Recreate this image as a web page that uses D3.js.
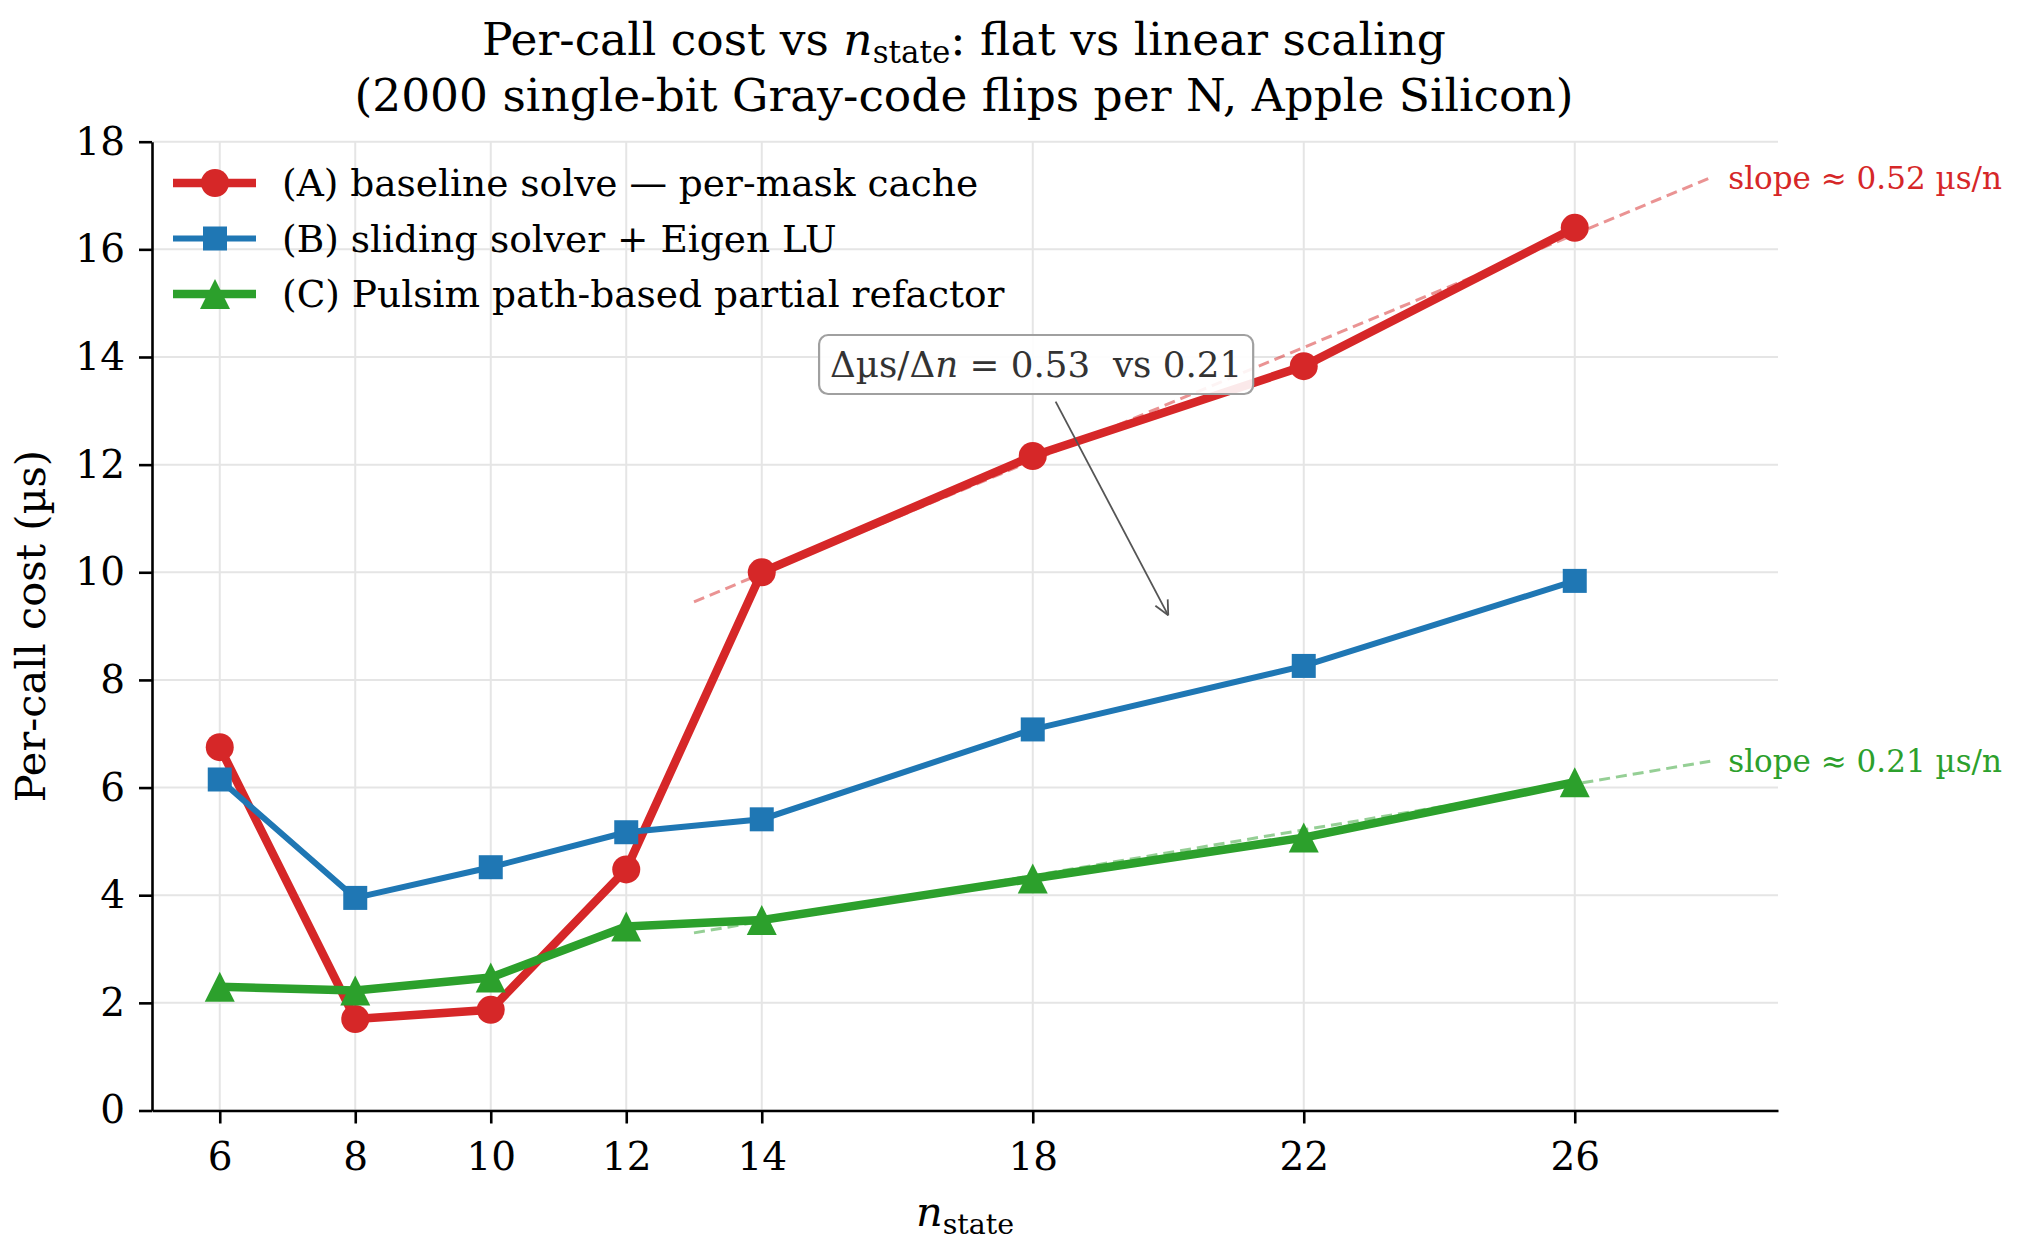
<!DOCTYPE html>
<html>
<head>
<meta charset="utf-8">
<script src="https://cdn.jsdelivr.net/npm/d3@7/dist/d3.min.js"></script>
<style>
  body { margin: 0; background: #fff; }
  svg { display: block; font-family: "DejaVu Serif", serif; }
</style>
</head>
<body>
<svg></svg>
<script>
// values
const nState = [6, 8, 10, 12, 14, 18, 22, 26];
const costA = [6.75, 1.70, 1.87, 4.48, 10.0, 12.16, 13.83, 16.40];
const costB = [6.15, 3.95, 4.52, 5.17, 5.41, 7.08, 8.26, 9.84];
const costC = [2.30, 2.23, 2.47, 3.42, 3.54, 4.31, 5.07, 6.10];
const seriesNames = [
    "(A) baseline solve \u2014 per-mask cache",
    "(B) sliding solver + Eigen LU",
    "(C) Pulsim path-based partial refactor"
];
const yTicks = [0, 2, 4, 6, 8, 10, 12, 14, 16, 18];
const fitA = [[13, 9.45], [28, 17.33]];
const fitC = [[13, 3.30], [28, 6.49]];
const slopeLabels = ["slope \u2248 0.52 \u00b5s/n", "slope \u2248 0.21 \u00b5s/n"];
const annotAt = [18.05, 13.86], annotTip = [20, 9.2];

const width = 2020, height = 1250;
const margin = { top: 141.7, right: 242, bottom: 139.5, left: 152 };
const red = "#d62728", blue = "#1f77b4", green = "#2ca02c";

const svg = d3.select("svg")
    .attr("width", width)
    .attr("height", height);

svg.append("rect").attr("width", width).attr("height", height).attr("fill", "#fff");

const x = d3.scaleLinear()
    .domain([5, 29])
    .range([margin.left, width - margin.right]);

const y = d3.scaleLinear()
    .domain([0, 18])
    .range([height - margin.bottom, margin.top]);

// grid
const grid = svg.append("g").attr("stroke", "#e5e5e5").attr("stroke-width", 2);
grid.selectAll("line.v").data(nState).enter().append("line")
    .attr("x1", d => x(d)).attr("x2", d => x(d))
    .attr("y1", y(0)).attr("y2", y(18));
grid.selectAll("line.h").data(yTicks).enter().append("line")
    .attr("x1", x(5)).attr("x2", x(29))
    .attr("y1", d => y(d)).attr("y2", d => y(d));

// axes
const tickFont = 39;
const xAxis = g => g
    .attr("transform", `translate(0,${y(0)})`)
    .call(d3.axisBottom(x).tickValues(nState).tickSize(13).tickPadding(19).tickSizeOuter(0))
    .call(g => g.select(".domain").attr("stroke-width", 2.6))
    .call(g => g.selectAll(".tick line").attr("stroke-width", 2.6))
    .call(g => g.selectAll(".tick text").attr("font-size", tickFont).attr("font-family", "DejaVu Serif").attr("fill", "#000"));

const yAxis = g => g
    .attr("transform", `translate(${x(5)},0)`)
    .call(d3.axisLeft(y).tickValues(yTicks).tickSize(13).tickPadding(14).tickSizeOuter(0))
    .call(g => g.select(".domain").attr("stroke-width", 2.6))
    .call(g => g.selectAll(".tick line").attr("stroke-width", 2.6))
    .call(g => g.selectAll(".tick text").attr("font-size", tickFont).attr("font-family", "DejaVu Serif").attr("fill", "#000"));

svg.append("g").call(xAxis);
svg.append("g").call(yAxis);

// fit lines
const line = d3.line().x(d => x(d[0])).y(d => y(d[1]));
[[fitA, red], [fitC, green]].forEach(([f, c]) => {
    svg.append("path")
        .attr("d", line(f))
        .attr("fill", "none")
        .attr("stroke", c)
        .attr("stroke-opacity", 0.5)
        .attr("stroke-width", 3)
        .attr("stroke-dasharray", "11,6");
});

// series
const series = [
    { name: seriesNames[0], vals: costA, color: red, lw: 8.5, marker: "circle", ms: 28 },
    { name: seriesNames[1], vals: costB, color: blue, lw: 6, marker: "square", ms: 24 },
    { name: seriesNames[2], vals: costC, color: green, lw: 8.5, marker: "triangle", ms: 30 }
];

function drawMarker(g, m, size, color) {
    const h = size / 2;
    if (m === "circle") g.append("circle").attr("r", h).attr("fill", color);
    else if (m === "square") g.append("rect").attr("x", -h).attr("y", -h).attr("width", size).attr("height", size).attr("fill", color);
    else g.append("path").attr("d", `M0,${-h}L${-h},${h}L${h},${h}Z`).attr("fill", color);
}

series.forEach(s => {
    const pts = nState.map((n, i) => [n, s.vals[i]]);
    svg.append("path")
        .attr("d", line(pts))
        .attr("fill", "none")
        .attr("stroke", s.color)
        .attr("stroke-width", s.lw)
        .attr("stroke-linejoin", "round");
    pts.forEach(p => {
        const g = svg.append("g").attr("transform", `translate(${x(p[0])},${y(p[1])})`);
        drawMarker(g, s.marker, s.ms, s.color);
    });
});

// slope labels
[[fitA, red, slopeLabels[0]], [fitC, green, slopeLabels[1]]].forEach(([f, c, t]) => {
    svg.append("text")
        .attr("x", x(f[1][0]) + 18)
        .attr("y", y(f[1][1]))
        .attr("dy", "0.35em")
        .attr("font-size", 31)
        .attr("fill", c)
        .text(t);
});

// legend
const legend = svg.append("g")
    .selectAll("g").data(series).enter().append("g")
    .attr("transform", (d, i) => `translate(173,${183 + i * 55.5})`);
legend.append("line")
    .attr("x1", 0).attr("x2", 83)
    .attr("stroke", d => d.color)
    .attr("stroke-width", d => d.lw);
legend.each(function (d) {
    const g = d3.select(this).append("g").attr("transform", "translate(42,0)");
    drawMarker(g, d.marker, d.ms, d.color);
});
legend.append("text")
    .attr("x", 109)
    .attr("dy", "0.35em")
    .attr("font-size", 37.5)
    .text(d => d.name);

// annotation
const ann = svg.append("g");
const annText = ann.append("text")
    .attr("x", x(annotAt[0]))
    .attr("y", y(annotAt[1]))
    .attr("dy", "0.35em")
    .attr("text-anchor", "middle")
    .attr("font-size", 35.7)
    .attr("fill", "#333");
annText.append("tspan").text("\u0394\u00b5s/\u0394");
annText.append("tspan").attr("font-style", "italic").text("n");
annText.append("tspan").text(" = 0.53\u00a0\u00a0vs 0.21");
const bb = annText.node().getBBox();
const pad = 11;
const box = { x0: bb.x - pad, x1: bb.x + bb.width + pad, y0: y(annotAt[1]) - 29.5, y1: y(annotAt[1]) + 29.5 };
ann.insert("rect", "text")
    .attr("x", box.x0).attr("y", box.y0)
    .attr("width", box.x1 - box.x0).attr("height", box.y1 - box.y0)
    .attr("rx", 9)
    .attr("fill", "#fff").attr("fill-opacity", 0.9)
    .attr("stroke", "#a0a0a0").attr("stroke-width", 2.2);

// arrow from the box edge to the tip
const cx = x(annotAt[0]), cy = y(annotAt[1]);
const tx = x(annotTip[0]), ty = y(annotTip[1]);
const t0 = (box.y1 - cy) / (ty - cy) + 0.03;
const sx = cx + (tx - cx) * t0, sy = cy + (ty - cy) * t0;
const ang = Math.atan2(ty - sy, tx - sx);
ann.append("line")
    .attr("x1", sx).attr("y1", sy).attr("x2", tx).attr("y2", ty)
    .attr("stroke", "#555").attr("stroke-width", 1.8);
[ang + Math.PI - 0.45, ang + Math.PI + 0.45].forEach(a => {
    ann.append("line")
        .attr("x1", tx).attr("y1", ty)
        .attr("x2", tx + 16 * Math.cos(a)).attr("y2", ty + 16 * Math.sin(a))
        .attr("stroke", "#555").attr("stroke-width", 1.8);
});

// title
const title = svg.append("text")
    .attr("text-anchor", "middle")
    .attr("font-size", 45.5);
const t1 = title.append("tspan").attr("x", 964).attr("y", 55);
t1.append("tspan").text("Per-call cost vs ");
t1.append("tspan").attr("font-style", "italic").text("n");
t1.append("tspan").attr("font-size", 31).attr("dy", 8).text("state");
t1.append("tspan").attr("dy", -8).text(": flat vs linear scaling");
title.append("tspan").attr("x", 964).attr("y", 110.5)
    .text("(2000 single-bit Gray-code flips per N, Apple Silicon)");

// axis labels
const xl = svg.append("text")
    .attr("x", x(17))
    .attr("y", 1226)
    .attr("text-anchor", "middle")
    .attr("font-size", 41.5);
xl.append("tspan").attr("font-style", "italic").text("n");
xl.append("tspan").attr("font-size", 28.5).attr("dy", 8).text("state");

svg.append("text")
    .attr("transform", `translate(45,${(y(0) + y(18)) / 2}) rotate(-90)`)
    .attr("text-anchor", "middle")
    .attr("font-size", 41.5)
    .text("Per-call cost (\u00b5s)");
</script>
</body>
</html>
